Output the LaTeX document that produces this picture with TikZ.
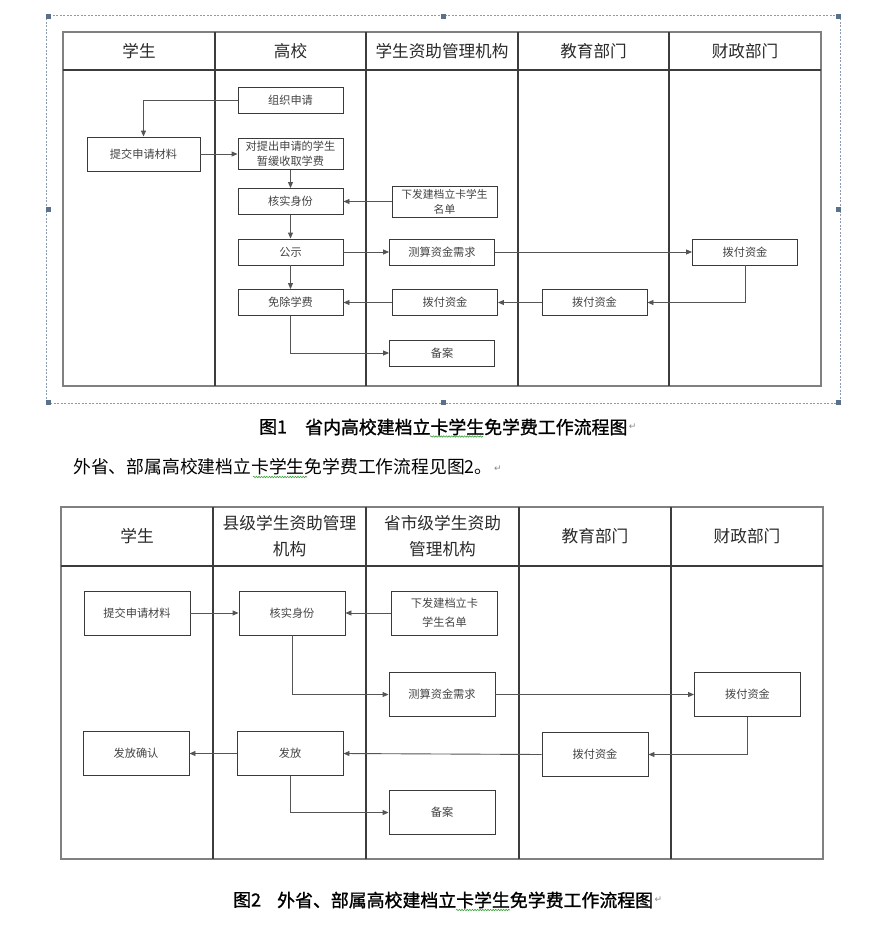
\documentclass[tikz,border=0pt]{standalone}
\usepackage{fontspec}
\newfontfamily\cjk{Noto Sans CJK SC}
\newfontfamily\cjkcap[FakeBold=1.2]{Noto Sans CJK SC}
\newfontfamily\djv{DejaVu Sans}
\usetikzlibrary{arrows.meta,decorations.pathmorphing}
\definecolor{linec}{HTML}{555555}
\definecolor{boxc}{HTML}{3a3a3a}
\definecolor{outerc}{HTML}{808080}
\definecolor{innerc}{HTML}{3c3c3c}
\definecolor{txtc}{HTML}{444444}
\definecolor{headc}{HTML}{2a2a2a}
\definecolor{framec}{HTML}{8a9bb0}
\definecolor{handlec}{HTML}{5b7189}
\definecolor{spellc}{HTML}{3aa03a}
\definecolor{markc}{HTML}{888888}
\tikzset{
  bx/.style={draw=boxc, line width=0.9pt, minimum width=105pt, minimum height=26pt,
    inner sep=0pt, align=center, text=txtc, font=\cjk\fontsize{11.2}{15}\selectfont},
  bxtwo/.style={bx, minimum width=106pt, minimum height=44pt, font=\cjk\fontsize{11.2}{19}\selectfont},
  arr/.style={draw=linec, line width=0.9pt, -{Triangle[length=6pt,width=5pt]}},
  outer/.style={draw=outerc, line width=1.8pt},
  inner/.style={draw=innerc, line width=1.2pt},
  headone/.style={inner sep=0pt, align=center, text=headc, font=\cjk\fontsize{16.6}{20}\selectfont},
  headtwo/.style={inner sep=0pt, align=center, text=headc, font=\cjk\fontsize{16.7}{26}\selectfont},
  captxt/.style={inner sep=0pt, anchor=west, text=black, font=\cjkcap\fontsize{17.9}{22}\selectfont},
  paratxt/.style={inner sep=0pt, anchor=west, text=black, font=\cjk\fontsize{17.8}{22}\selectfont},
  retmark/.style={inner sep=0pt, anchor=west, text=markc, font=\djv\fontsize{9}{10}\selectfont},
  spell/.style={draw=spellc, line width=0.6pt, decorate, decoration={snake, amplitude=0.7pt, segment length=2.6pt}},
  handle/.style={fill=handlec, draw=none, minimum size=5pt, inner sep=0pt},
}
\begin{document}
\begin{tikzpicture}[x=1pt,y=-1pt]
\useasboundingbox (0,0) rectangle (868,925);
\fill[white] (0,0) rectangle (868,925);

% ---------- Figure 1 frame ----------
\draw[framec, line width=0.7pt, dash pattern=on 2pt off 1.5pt] (46,15) rectangle (840,403);
\foreach \p/\n in {{(48,17)}/h1,{(443,17)}/h2,{(838,17)}/h3,{(48,210)}/h4,{(838,210)}/h5,{(48,402)}/h6,{(443,402)}/h7,{(838,402)}/h8}
  \node[handle] (\n) at \p {};

% ---------- Figure 1 table ----------
\draw[outer] (63,32) rectangle (821,386);
\draw[inner] (63,70) -- (821,70);
\foreach \x in {215,366,518,669} \draw[inner] (\x,32) -- (\x,386);

\node[headone] (a1) at (139,51) {学生};
\node[headone] (a2) at (290.5,51) {高校};
\node[headone] (a3) at (442,51) {学生资助管理机构};
\node[headone] (a4) at (593.5,51) {教育部门};
\node[headone] (a5) at (745,51) {财政部门};

\node[bx] (zz) at (290.5,100.5) {组织申请};
\node[bx, minimum width=113pt, minimum height=34pt] (tj) at (143.5,154) {提交申请材料};
\node[bx, minimum height=31pt] (dt) at (290.5,154) {对提出申请的学生\\暂缓收取学费};
\node[bx] (hs) at (290.5,201.5) {核实身份};
\node[bx, minimum height=31pt, font=\cjk\fontsize{10.8}{15}\selectfont] (xf) at (444.5,201.5) {下发建档立卡学生\\名单};
\node[bx] (gs) at (290.5,252) {公示};
\node[bx] (cs) at (442,252) {测算资金需求};
\node[bx] (czone) at (745,252) {拨付资金};
\node[bx] (jyone) at (594.5,302.5) {拨付资金};
\node[bx] (zzone) at (445,302.5) {拨付资金};
\node[bx] (mc) at (290.5,302.5) {免除学费};
\node[bx] (ba) at (442,353) {备案};

\draw[arr] (zz.west) -| (tj.north);
\draw[arr] (tj.east) -- (dt.west);
\draw[arr] (dt.south) -- (hs.north);
\draw[arr] (xf.west) -- (hs.east);
\draw[arr] (hs.south) -- (gs.north);
\draw[arr] (gs.east) -- (cs.west);
\draw[arr] (cs.east) -- (czone.west);
\draw[arr] (gs.south) -- (mc.north);
\draw[arr] (czone.south) |- (jyone.east);
\draw[arr] (jyone.west) -- (zzone.east);
\draw[arr] (zzone.west) -- (mc.east);
\draw[arr] (mc.south) |- (ba.west);

% ---------- Caption 1 ----------
\node[captxt] (c1n) at (259,427) {图1};
\node[captxt] (c1t) at (305,427) {省内高校建档立卡学生免学费工作流程图};
\node[retmark] (c1r) at ([xshift=1pt]c1t.east) {↵};
\draw[spell] (430,436.5) -- (483,436.5);

% ---------- Paragraph ----------
\node[paratxt] (para) at (73,467) {外省、部属高校建档立卡学生免学费工作流程见图2。};
\node[retmark] (parar) at (494,469) {↵};
\draw[spell] (253,477) -- (307,477);

% ---------- Figure 2 table ----------
\draw[outer, line width=1.5pt] (61,507) rectangle (823,859);
\draw[inner] (61,566) -- (823,566);
\foreach \x in {213,366,519,671} \draw[inner] (\x,507) -- (\x,859);

\node[headtwo] (b1) at (137,536.5) {学生};
\node[headtwo] (b2) at (289.5,536.5) {县级学生资助管理\\机构};
\node[headtwo] (b3) at (442.5,536.5) {省市级学生资助\\管理机构};
\node[headtwo] (b4) at (595,536.5) {教育部门};
\node[headtwo] (b5) at (747,536.5) {财政部门};

\node[bxtwo] (tjtwo) at (137,613) {提交申请材料};
\node[bxtwo] (hstwo) at (292,613) {核实身份};
\node[bxtwo] (xftwo) at (444.5,613) {下发建档立卡\\学生名单};
\node[bxtwo] (cstwo) at (442,694.5) {测算资金需求};
\node[bxtwo] (cztwo) at (747.5,694.5) {拨付资金};
\node[bxtwo] (jytwo) at (595,754.5) {拨付资金};
\node[bxtwo] (ffqr) at (136,753.5) {发放确认};
\node[bxtwo] (ff) at (290,753.5) {发放};
\node[bxtwo] (batwo) at (442,812.5) {备案};

\draw[arr] (tjtwo.east) -- (hstwo.west);
\draw[arr] (xftwo.west) -- (hstwo.east);
\draw[arr] (hstwo.south) |- (cstwo.west);
\draw[arr] (cstwo.east) -- (cztwo.west);
\draw[arr] (cztwo.south) |- (jytwo.east);
\draw[arr] (jytwo.west) -- (ff.east);
\draw[arr] (ff.west) -- (ffqr.east);
\draw[arr] (ff.south) |- (batwo.west);

% ---------- Caption 2 ----------
\node[captxt] (c2n) at (233,900) {图2};
\node[captxt] (c2t) at (277,900) {外省、部属高校建档立卡学生免学费工作流程图};
\node[retmark] (c2r) at ([xshift=1pt]c2t.east) {↵};
\draw[spell] (456,910) -- (510,910);
\end{tikzpicture}
\end{document}
